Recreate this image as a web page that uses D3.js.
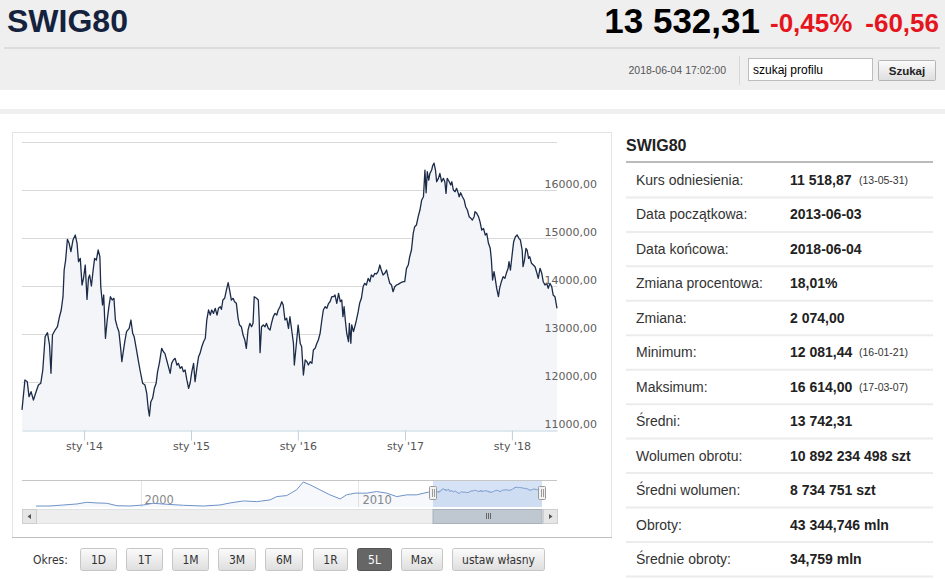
<!DOCTYPE html>
<html>
<head>
<meta charset="utf-8">
<script src="https://cdn.jsdelivr.net/npm/d3@7"></script>
<style>
  html, body { margin: 0; padding: 0; background: #fff; }
  svg { display: block; }
</style>
</head>
<body>
<div id="page"></div>
<script>
// sWIG80, 5L: days since 2013-06-03 and closing level
const mainDays = [
  0, 10, 18, 24, 31, 39, 47, 56, 64, 71, 79, 87, 94, 99, 104, 113, 121, 128, 134, 140,
  144, 149, 155, 161, 167, 174, 182, 188, 193, 199, 205, 210, 216, 222, 227, 231, 237, 243, 248, 254,
  260, 266, 269, 275, 279, 285, 291, 296, 302, 308, 314, 319, 325, 331, 337, 341, 345, 351, 357, 366,
  372, 378, 383, 391, 397, 403, 412, 420, 426, 431, 435, 440, 446, 452, 458, 463, 469, 477, 483, 488,
  494, 500, 506, 511, 517, 523, 529, 534, 540, 546, 551, 557, 563, 569, 574, 580, 586, 591, 597, 603,
  608, 614, 620, 626, 631, 637, 643, 648, 654, 660, 666, 671, 677, 681, 686, 692, 698, 704, 709, 715,
  721, 726, 732, 738, 743, 749, 755, 761, 766, 772, 778, 784, 789, 793, 801, 807, 810, 813, 818, 824,
  830, 835, 841, 847, 852, 858, 864, 870, 875, 881, 887, 892, 898, 904, 910, 915, 921, 927, 930, 936,
  943, 950, 955, 961, 967, 973, 978, 984, 990, 995, 1001, 1007, 1012, 1018, 1024, 1029, 1035, 1041, 1047, 1052,
  1058, 1064, 1069, 1075, 1081, 1087, 1092, 1096, 1100, 1104, 1109, 1115, 1118, 1123, 1126, 1132, 1138, 1142, 1148, 1153,
  1159, 1165, 1170, 1176, 1182, 1188, 1193, 1199, 1205, 1210, 1216, 1222, 1227, 1233, 1239, 1245, 1250, 1256, 1262, 1267,
  1273, 1279, 1284, 1290, 1296, 1302, 1307, 1313, 1319, 1324, 1330, 1336, 1341, 1347, 1353, 1359, 1365, 1371, 1376, 1380,
  1384, 1389, 1393, 1399, 1402, 1407, 1412, 1416, 1422, 1427, 1433, 1439, 1444, 1448, 1452, 1459, 1464, 1468, 1473, 1479,
  1484, 1490, 1493, 1498, 1504, 1510, 1515, 1521, 1527, 1533, 1538, 1544, 1547, 1553, 1559, 1564, 1570, 1576, 1582, 1587,
  1593, 1599, 1603, 1607, 1612, 1616, 1621, 1627, 1631, 1637, 1643, 1649, 1654, 1660, 1663, 1668, 1673, 1679, 1685, 1691,
  1697, 1702, 1708, 1711, 1716, 1721, 1725, 1730, 1734, 1740, 1746, 1752, 1757, 1763, 1769, 1775, 1780, 1786, 1792, 1797,
  1803, 1809, 1814, 1820, 1827
];
const mainValues = [
  11420, 12042, 12006, 11694, 11798, 11625, 11777, 11937, 11973, 12250, 12944, 13027, 12771, 12181, 12979, 13083, 13152, 13360, 13500, 13777,
  14333, 14541, 14972, 14889, 14715, 14958, 15062, 14889, 14506, 14576, 14020, 14160, 14437, 13722, 14160, 14229, 14000, 14333, 14576, 14541,
  14750, 14610, 13985, 13604, 13812, 12910, 13291, 13535, 13777, 13708, 13743, 13291, 13152, 13048, 12701, 12423, 12597, 12840, 13048, 13118,
  13291, 13014, 12944, 12667, 12458, 12250, 11973, 11937, 11764, 11452, 11292, 11590, 11660, 11868, 11973, 12215, 12389, 12702, 12631, 12597,
  12458, 12319, 12181, 12389, 12458, 12493, 12354, 12389, 12285, 12319, 12215, 12250, 12042, 11868, 11973, 12215, 12389, 12006, 12285, 12527,
  12597, 12735, 12840, 12910, 13291, 13500, 13395, 13500, 13430, 13535, 13395, 13535, 13569, 13514, 13708, 13743, 13916, 14069, 13916, 13708,
  13743, 13673, 13639, 13327, 13187, 13152, 12979, 12875, 12701, 13083, 13222, 13152, 13222, 13777, 13743, 13708, 13291, 12611, 13152, 13187,
  13152, 13222, 13118, 13083, 13222, 13360, 13430, 13395, 13500, 13569, 13673, 13604, 13291, 13327, 13118, 13360, 13083, 12806, 12354, 12735,
  13187, 12806, 12735, 12146, 12458, 12423, 12354, 12423, 12389, 12667, 12702, 12806, 12875, 13014, 13291, 13500, 13569, 13535, 13639, 13673,
  13777, 13777, 13812, 13639, 13847, 13673, 13708, 13360, 13569, 13291, 13014, 12840, 13222, 12806, 13187, 13048, 13187, 13291, 13465, 13639,
  13743, 13985, 14056, 14020, 14160, 14090, 14229, 14194, 14264, 14250, 14298, 14437, 14333, 14229, 14264, 14333, 14194, 14056, 14020, 13881,
  13985, 14020, 14035, 14056, 14077, 14090, 14090, 14368, 14437, 14610, 14750, 15097, 15235, 15271, 15444, 15583, 15792, 15860, 16416, 15943,
  16381, 16208, 16347, 16416, 16499, 16560, 16416, 16172, 16243, 16347, 16172, 16243, 16172, 15930, 16243, 16172, 16104, 16172, 16000, 15965,
  16035, 15930, 15860, 15943, 15860, 15792, 15652, 15583, 15444, 15410, 15375, 15444, 15548, 15514, 15444, 15340, 15166, 15201, 15062, 15097,
  14889, 14785, 14541, 14125, 14298, 14160, 13952, 13777, 13952, 14090, 14194, 14160, 14264, 14368, 14506, 14333, 14610, 14923, 15027, 15062,
  14993, 14958, 14750, 14402, 14541, 14785, 14750, 14576, 14610, 14472, 14437, 14402, 14298, 14160, 14368, 14264, 14090, 14020, 14056, 13952,
  14056, 13985, 13812, 13777, 13532
];

// full history shown in the navigator, before the 5L window
const historyDates = [
  '1995-03-15', '1995-11-05', '1996-06-15', '1997-01-30', '1997-07-15', '1998-01-01', '1998-06-15', '1998-11-30',
  '1999-07-10', '2000-02-15', '2000-08-01', '2001-03-15', '2001-12-20', '2002-11-20', '2003-08-25', '2004-02-10',
  '2004-09-20', '2005-05-01', '2005-12-10', '2006-04-01', '2006-09-15', '2007-03-01', '2007-06-20', '2007-10-10',
  '2008-03-25', '2008-09-10', '2009-03-01', '2009-06-15', '2009-11-01', '2010-05-20', '2010-11-01', '2011-04-20',
  '2011-10-05', '2012-03-20', '2012-09-01', '2013-03-15'
];
const historyValues = [
  1000, 1000, 1830, 2670, 4080, 3500, 3250, 1250,
  1000, 1830, 3250, 2420, 1580, 1000, 1830, 3500,
  5170, 4580, 6000, 8750, 9580, 14330, 20750, 18500,
  14330, 10170, 6830, 10170, 11580, 11580, 12900, 11580,
  8750, 10170, 10170, 12400
];

const yTickValues = [11000, 12000, 13000, 14000, 15000, 16000];
const yTop = 17000;
const xTickDates = ['2014-01-01', '2015-01-01', '2016-01-01', '2017-01-01', '2018-01-01'];
const xTickLabels = ["sty '14", "sty '15", "sty '16", "sty '17", "sty '18"];
const navTickDates = ['2000-01-01', '2010-01-01'];
const navTickLabels = ['2000', '2010'];

const statLabels = ['Kurs odniesienia:', 'Data początkowa:', 'Data końcowa:', 'Zmiana procentowa:', 'Zmiana:',
  'Minimum:', 'Maksimum:', 'Średni:', 'Wolumen obrotu:', 'Średni wolumen:', 'Obroty:', 'Średnie obroty:'];
const statValues = ['11 518,87', '2013-06-03', '2018-06-04', '18,01%', '2 074,00',
  '12 081,44', '16 614,00', '13 742,31', '10 892 234 498 szt', '8 734 751 szt', '43 344,746 mln', '34,759 mln'];
const statNotes = ['(13-05-31)', '', '', '', '', '(16-01-21)', '(17-03-07)', '', '', '', '', ''];

const periods = ['1D', '1T', '1M', '3M', '6M', '1R', '5L', 'Max', 'ustaw własny'];
const activePeriod = '5L';

// ---------- layout ----------
const W = 945, H = 580;
const plot = { left: 22, right: 557, top: 142, bottom: 430 };
const nav = { top: 480, bottom: 507, left: 22, right: 557 };
const sans = "'Liberation Sans', Arial, sans-serif";
const verd = "'DejaVu Sans', Verdana, sans-serif";
const btnFont = "'DejaVu Sans Condensed', 'DejaVu Sans', Tahoma, sans-serif";
const parse = d3.timeParse('%Y-%m-%d');
const startDate = parse('2013-06-03');
const endDate = parse('2018-06-04');

const svg = d3.select('#page').append('svg').attr('width', W).attr('height', H);
const defs = svg.append('defs');
const grad = defs.append('linearGradient').attr('id', 'btn').attr('x1', 0).attr('y1', 0).attr('x2', 0).attr('y2', 1);
grad.append('stop').attr('offset', '0%').attr('stop-color', '#fbfbfb');
grad.append('stop').attr('offset', '100%').attr('stop-color', '#dedede');

// ---------- header ----------
svg.append('rect').attr('x', 0).attr('y', 0).attr('width', W).attr('height', 90).attr('fill', '#efefef');
svg.append('line').attr('x1', 4).attr('x2', 940).attr('y1', 48).attr('y2', 48)
  .attr('stroke', '#d6d6d6').attr('stroke-width', 1.5);
svg.append('rect').attr('x', 0).attr('y', 109).attr('width', W).attr('height', 5).attr('fill', '#efefef');

svg.append('text').attr('x', 7).attr('y', 32).text('SWIG80')
  .style('font-family', sans).style('font-weight', 'bold').style('font-size', '32px').attr('fill', '#14223d');
svg.append('text').attr('x', 760).attr('y', 33).attr('text-anchor', 'end').text('13 532,31')
  .style('font-family', sans).style('font-weight', 'bold').style('font-size', '35px').attr('fill', '#000');
svg.append('text').attr('x', 770).attr('y', 32).text('-0,45%')
  .style('font-family', sans).style('font-weight', 'bold').style('font-size', '26px').attr('fill', '#e4151c');
svg.append('text').attr('x', 939).attr('y', 32).attr('text-anchor', 'end').text('-60,56')
  .style('font-family', sans).style('font-weight', 'bold').style('font-size', '26px').attr('fill', '#e4151c');

svg.append('text').attr('x', 726).attr('y', 74).attr('text-anchor', 'end').text('2018-06-04 17:02:00')
  .style('font-family', sans).style('font-size', '10.5px').attr('fill', '#555');
svg.append('line').attr('x1', 739.5).attr('x2', 739.5).attr('y1', 56).attr('y2', 85).attr('stroke', '#d8d8d8');
svg.append('rect').attr('x', 748.5).attr('y', 58.5).attr('width', 124).attr('height', 22)
  .attr('fill', '#fff').attr('stroke', '#bdbdbd');
svg.append('text').attr('x', 753).attr('y', 74).text('szukaj profilu')
  .style('font-family', sans).style('font-size', '12px').attr('fill', '#000');
svg.append('rect').attr('x', 878.5).attr('y', 60.5).attr('width', 57).attr('height', 20).attr('rx', 1)
  .attr('fill', 'url(#btn)').attr('stroke', '#b5b5b5');
svg.append('text').attr('x', 907).attr('y', 75).attr('text-anchor', 'middle').text('Szukaj')
  .style('font-family', sans).style('font-weight', 'bold').style('font-size', '11.5px').attr('fill', '#222');

// ---------- chart panel ----------
svg.append('rect').attr('x', 12.5).attr('y', 132.5).attr('width', 599).attr('height', 405)
  .attr('fill', '#fff').attr('stroke', '#e4e4e4');
svg.append('line').attr('x1', 12).attr('x2', 612).attr('y1', 537.5).attr('y2', 537.5).attr('stroke', '#bdbdbd');

const x = d3.scaleTime().domain([startDate, endDate]).range([plot.left, plot.right]);
const y = d3.scaleLinear().domain([yTickValues[0], yTop]).range([plot.bottom, plot.top]);

const series = mainDays.map((d, i) => ({ date: d3.timeDay.offset(startDate, d), value: mainValues[i] }));

// grid
svg.append('g').selectAll('line').data(yTickValues.slice(1).concat([yTop])).join('line')
  .attr('x1', plot.left).attr('x2', plot.right)
  .attr('y1', (d) => Math.round(y(d)) + 0.5).attr('y2', (d) => Math.round(y(d)) + 0.5)
  .attr('stroke', '#d9d9d9');

// area + line
svg.append('path').datum(series)
  .attr('d', d3.area().x((d) => x(d.date)).y0(plot.bottom).y1((d) => y(d.value)))
  .attr('fill', '#f3f5f8');
svg.append('path').datum(series)
  .attr('d', d3.line().x((d) => x(d.date)).y((d) => y(d.value)))
  .attr('fill', 'none').attr('stroke', '#1b2b48').attr('stroke-width', 1.3).attr('stroke-linejoin', 'round');

// x axis
const xAxis = svg.append('g').attr('transform', `translate(0,${plot.bottom + 0.5})`)
  .call(d3.axisBottom(x)
    .tickValues(xTickDates.map(parse))
    .tickFormat((d, i) => xTickLabels[i])
    .tickSizeInner(10).tickSizeOuter(0).tickPadding(2));
xAxis.select('.domain').attr('stroke', '#c0d0e0');
xAxis.selectAll('.tick line').attr('stroke', '#c0d0e0');
xAxis.selectAll('.tick text').style('font-family', verd).style('font-size', '11px').attr('fill', '#555');

// y labels (right side)
const yAxis = svg.append('g').attr('transform', `translate(597,0)`)
  .call(d3.axisRight(y).tickValues(yTickValues)
    .tickFormat((d) => d3.format('.2f')(d).replace('.', ','))
    .tickSize(0).tickPadding(0));
yAxis.select('.domain').remove();
yAxis.selectAll('.tick text').attr('text-anchor', 'end').attr('dy', '-0.2em')
  .style('font-family', verd).style('font-size', '11px').attr('fill', '#606060');

// ---------- navigator ----------
const history = historyDates.map((d, i) => ({ date: parse(d), value: historyValues[i] }));
const navSeries = history.concat(series);
const nx = d3.scaleTime().domain([startDate, endDate]).range([433, 542]);
const ny = d3.scaleLinear().domain(d3.extent(navSeries, (d) => d.value)).range([506, 482]);

svg.append('g').selectAll('line').data(navTickDates.map(parse)).join('line')
  .attr('x1', (d) => Math.round(nx(d)) + 0.5).attr('x2', (d) => Math.round(nx(d)) + 0.5)
  .attr('y1', nav.top).attr('y2', nav.bottom).attr('stroke', '#e6e6e6');
svg.append('g').selectAll('text').data(navTickDates.map(parse)).join('text')
  .attr('x', (d) => nx(d) + 4).attr('y', 504).text((d, i) => navTickLabels[i])
  .style('font-family', verd).style('font-size', '11.5px').attr('fill', '#888');

svg.append('rect').attr('x', nx(startDate)).attr('y', nav.top).attr('width', nx(endDate) - nx(startDate))
  .attr('height', nav.bottom - nav.top).attr('fill', 'rgba(102,153,222,0.27)');

svg.append('path').datum(navSeries)
  .attr('d', d3.area().x((d) => nx(d.date)).y0(nav.bottom).y1((d) => ny(d.value)))
  .attr('fill', 'rgba(69,114,167,0.05)');
svg.append('path').datum(navSeries)
  .attr('d', d3.line().x((d) => nx(d.date)).y((d) => ny(d.value)))
  .attr('fill', 'none').attr('stroke', '#6f93c9').attr('stroke-width', 1);

svg.append('line').attr('x1', nav.left).attr('x2', nav.right).attr('y1', nav.top + 0.5).attr('y2', nav.top + 0.5)
  .attr('stroke', '#c6c6c6');

// handles
[startDate, endDate].forEach((d) => {
  const hx = Math.round(nx(d));
  svg.append('rect').attr('x', hx - 3.5).attr('y', 486.5).attr('width', 7).attr('height', 13).attr('rx', 1)
    .attr('fill', '#f2f2f2').attr('stroke', '#999');
  [-1, 1].forEach((o) => {
    svg.append('line').attr('x1', hx + o + 0.5).attr('x2', hx + o + 0.5).attr('y1', 489).attr('y2', 497)
      .attr('stroke', '#999');
  });
});

// scrollbar
const sb = { top: 509, h: 14 };
svg.append('rect').attr('x', nav.left + 0.5).attr('y', sb.top + 0.5).attr('width', nav.right - nav.left - 1)
  .attr('height', sb.h).attr('fill', '#eeeeee').attr('stroke', '#e0e0e0');
svg.append('rect').attr('x', nx(startDate)).attr('y', sb.top + 0.5).attr('width', nx(endDate) - nx(startDate))
  .attr('height', sb.h).attr('fill', '#bfc7d0').attr('stroke', '#a9b1ba');
[-2, 0, 2].forEach((o) => {
  const cx = Math.round((nx(startDate) + nx(endDate)) / 2) + o + 0.5;
  svg.append('line').attr('x1', cx).attr('x2', cx).attr('y1', 513).attr('y2', 519).attr('stroke', '#666');
});
[[nav.left, -1], [nav.right - 14, 1]].forEach(([bx, dir]) => {
  svg.append('rect').attr('x', bx + 0.5).attr('y', sb.top + 0.5).attr('width', 14).attr('height', sb.h)
    .attr('fill', '#e6e6e6').attr('stroke', '#cfcfcf');
  const cx = bx + 7.5, cy = sb.top + 7.5;
  svg.append('path')
    .attr('d', `M${cx + dir * 2},${cy} L${cx - dir * 1.5},${cy - 2.5} L${cx - dir * 1.5},${cy + 2.5} Z`)
    .attr('fill', '#555');
});

// ---------- period buttons ----------
svg.append('text').attr('x', 33).attr('y', 564).text('Okres:')
  .style('font-family', btnFont).style('font-size', '12px').attr('fill', '#333');
const btnWidths = [36, 36, 36, 37, 37, 34, 34, 41, 92];
const btnGaps = [10, 10, 10, 10, 11, 10, 10, 10];
let bx = 80;
periods.forEach((p, i) => {
  const w = btnWidths[i];
  const active = p === activePeriod;
  svg.append('rect').attr('x', bx + 0.5).attr('y', 548.5).attr('width', w).attr('height', 22).attr('rx', 2)
    .attr('fill', active ? '#666' : 'url(#btn)').attr('stroke', active ? '#555' : '#c6c6c6');
  svg.append('text').attr('x', bx + w / 2 + 0.5).attr('y', 564).attr('text-anchor', 'middle').text(p)
    .style('font-family', btnFont).style('font-size', '12px').attr('fill', active ? '#fff' : '#333');
  bx += w + (btnGaps[i] || 0);
});

// ---------- stats table ----------
svg.append('text').attr('x', 626).attr('y', 151).text('SWIG80')
  .style('font-family', sans).style('font-weight', 'bold').style('font-size', '16px').attr('fill', '#222');
svg.append('line').attr('x1', 626).attr('x2', 933).attr('y1', 162).attr('y2', 162)
  .attr('stroke', '#bbbbbb').attr('stroke-width', 2);
const rowH = 34.45, row0 = 163;
const rows = svg.append('g').selectAll('g').data(statLabels).join('g')
  .attr('transform', (d, i) => `translate(0,${row0 + i * rowH})`);
rows.append('line').attr('x1', 626).attr('x2', 933).attr('y1', rowH).attr('y2', rowH)
  .attr('stroke', '#ececec').attr('stroke-width', 2);
rows.append('text').attr('x', 636).attr('y', 22).text((d) => d)
  .style('font-family', sans).style('font-size', '14px').attr('fill', '#333');
rows.append('text').attr('x', 790).attr('y', 22).text((d, i) => statValues[i])
  .style('font-family', sans).style('font-weight', 'bold').style('font-size', '14px').attr('fill', '#222');
rows.append('text').attr('x', 859).attr('y', 21).text((d, i) => statNotes[i])
  .style('font-family', sans).style('font-size', '10.5px').attr('fill', '#333');
</script>
</body>
</html>
